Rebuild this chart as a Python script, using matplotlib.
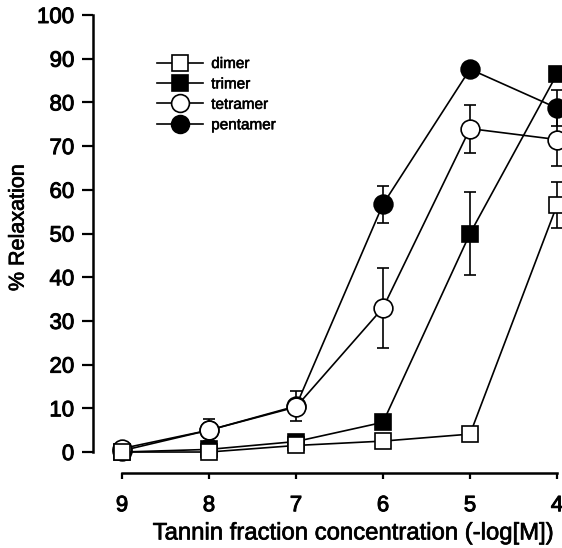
import matplotlib
matplotlib.use("Agg")
import matplotlib.pyplot as plt
import matplotlib.patheffects as pe

plt.rcParams['font.family'] = ['Liberation Sans', 'DejaVu Sans']

# ---- data ----
conc = [9, 8, 7, 6, 5, 4]

dimer = [0.0, 0.0, 1.5, 2.5, 4.1, 56.5]
dimer_err = [0, 0, 0, 0, 0, 5.3]

trimer = [0.0, 0.6, 2.4, 6.8, 50.0, 86.5]
trimer_err = [0, 0, 0, 0, 9.4, 0]

tetramer = [0.8, 5.0, 10.3, 33.0, 74.0, 71.5]
tetramer_err = [0, 2.5, 0, 9.2, 5.5, 6.0]

pentamer = [0.3, 5.0, 10.5, 56.7, 87.6, 78.7]
pentamer_err = [0, 0, 3.5, 4.2, 0, 4.2]

labels = ["dimer", "trimer", "tetramer", "pentamer"]
xticks = [9, 8, 7, 6, 5, 4]
yticks = [0, 10, 20, 30, 40, 50, 60, 70, 80, 90, 100]

# ---- figure ----
W, H = 562, 548
fig = plt.figure(figsize=(W / 100, H / 100), dpi=100)
left_px, right_px, top_px, bottom_px = 93, 562, 15, 473
ax = fig.add_axes([left_px / W, 1 - bottom_px / H,
                   (right_px - left_px) / W, (bottom_px - top_px) / H])
ax.set_xlim(9.333, 3.943)
ax.set_ylim(-4.8, 100)

thick = [pe.withStroke(linewidth=0.7, foreground='black')]

lw = 1.2
mew = 1.2
series = [
    ("pentamer", pentamer, pentamer_err, 'o', 'black', 13.5, 2),
    ("trimer", trimer, trimer_err, 's', 'black', 11.5, 3),
    ("tetramer", tetramer, tetramer_err, 'o', 'white', 13.5, 4),
    ("dimer", dimer, dimer_err, 's', 'white', 11.5, 5),
]
handles = {}
for name, vals, err, mk, fc, ms, z in series:
    eb = ax.errorbar(conc, vals, yerr=err, fmt='none', ecolor='black',
                     elinewidth=lw, capsize=4.3, capthick=lw, zorder=z - 0.5)
    for c in eb[1] + eb[2]:
        c.set_clip_on(False)
    ln, = ax.plot(conc, vals, color='black', lw=lw, marker=mk, ms=ms,
                  mfc=fc, mec='black', mew=mew, zorder=z, clip_on=False)
    handles[name] = ln

leg = ax.legend([handles[n] for n in labels], labels,
                loc='upper left', bbox_to_anchor=(157 / W, 1 - 57 / H),
                bbox_transform=fig.transFigure, frameon=False,
                fontsize=11, handlelength=3.0, handletextpad=0.55,
                labelspacing=0.42, borderpad=0, borderaxespad=0,
                markerscale=0.95)
for t in leg.get_texts():
    t.set_path_effects([pe.withStroke(linewidth=0.4, foreground='black')])

# spines
for s in ['top', 'right']:
    ax.spines[s].set_visible(False)
ax.spines['left'].set_bounds(0, 100)
ax.spines['bottom'].set_bounds(9, 4)
ax.spines['left'].set_linewidth(1.8)
ax.spines['bottom'].set_linewidth(1.8)

ax.set_xticks(xticks)
ax.set_xticklabels([str(t) for t in xticks])
ax.set_yticks(yticks)
ax.set_yticklabels([str(t) for t in yticks])
ax.tick_params(axis='y', direction='out', length=8, width=1.6, pad=5.5,
               labelsize=16)
ax.tick_params(axis='x', direction='out', length=4, width=1.6, pad=12,
               labelsize=16)
for t in ax.get_xticklabels() + ax.get_yticklabels():
    t.set_path_effects(thick)

xl = ax.set_xlabel("Tannin fraction concentration (-log[M])", fontsize=17.2,
                   labelpad=4.5)
yl = ax.set_ylabel("% Relaxation", fontsize=15.5, labelpad=6)
ax.yaxis.label.set_y(0.535)
xl.set_x((353 - left_px) / (right_px - left_px))
xl.set_path_effects([pe.withStroke(linewidth=0.5, foreground='black')])
yl.set_path_effects([pe.withStroke(linewidth=0.5, foreground='black')])

fig.savefig("out.png", dpi=100)
